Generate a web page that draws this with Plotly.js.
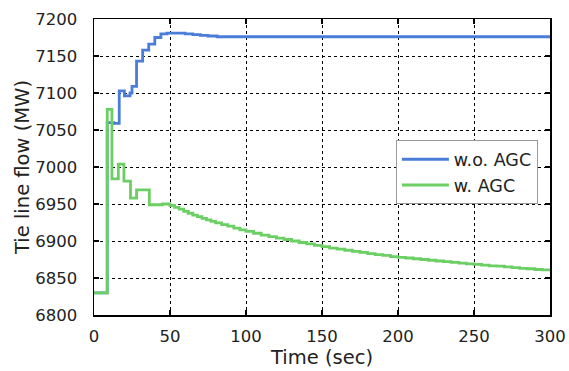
<!DOCTYPE html>
<html>
<head>
<meta charset="utf-8">
<script src="https://cdn.plot.ly/plotly-3.0.1.min.js"></script>
<style>body{margin:0;padding:0;background:#fff}#chart{width:569px;height:371px}</style>
</head>
<body>
<div id="chart"></div>
<script>
// Time (sec) and tie line flow (MW)
const timeWoAGC = [0, 8.7, 13, 16.6, 20, 23.7, 25, 28, 32, 36, 40, 44, 48, 52, 56, 60, 65, 70, 75, 81, 100, 150, 200, 250, 300];
const flowWoAGC = [6830, 7060, 7059, 7103, 7096, 7100, 7109, 7143, 7158, 7166, 7175, 7180, 7181, 7181, 7181, 7180, 7179, 7178, 7177, 7176, 7176, 7176, 7176, 7176, 7176];

const timeWAGC = [0, 8.7, 11.8, 16, 19.7, 24, 28, 36.4, 40, 45, 50, 53, 56, 59, 62, 65, 68, 71, 74, 77, 80, 84, 88, 92, 96, 100,
  105, 110, 115, 120, 125, 130, 135, 140, 145, 150, 155, 160, 165, 170, 175, 180, 185, 190, 195, 200,
  205, 210, 215, 220, 225, 230, 235, 240, 245, 250, 255, 260, 265, 270, 275, 280, 285, 290, 295, 300];
const flowWAGC = [6830, 7078, 6984, 7004, 6981, 6958, 6969, 6949, 6949, 6950, 6948, 6945.5, 6943, 6940, 6937.5, 6935, 6933, 6930.5, 6928.5, 6926.5, 6924.5, 6922, 6920, 6917.5, 6915, 6913,
  6910.5, 6908, 6906, 6904, 6902, 6900, 6898, 6896, 6894, 6892.5, 6890.5, 6889, 6887.5, 6886, 6884.5, 6883, 6881.5, 6880.5, 6879, 6878,
  6877, 6876, 6875, 6874, 6873, 6872, 6871, 6870, 6869, 6868.5, 6867.5, 6866.5, 6866, 6865, 6864, 6863, 6862.5, 6861.5, 6861, 6860];

const xTicks = [0, 50, 100, 150, 200, 250, 300];
const yTicks = [6800, 6850, 6900, 6950, 7000, 7050, 7100, 7150, 7200];
const seriesNames = ['w.o. AGC', 'w. AGC'];

const traces = [
  {x: timeWoAGC, y: flowWoAGC, name: seriesNames[0], mode: 'lines', line: {color: '#4a7dd8', width: 2.8, shape: 'hv'}},
  {x: timeWAGC, y: flowWAGC, name: seriesNames[1], mode: 'lines', line: {color: '#6bcf64', width: 2.8, shape: 'hv'}}
];

const axisCommon = {
  showline: true, linecolor: '#000', linewidth: 1.5, mirror: 'ticks',
  ticks: 'inside', ticklen: 5, tickcolor: '#000', tickwidth: 1.5,
  showgrid: true, gridcolor: '#000', griddash: 'dot', gridwidth: 1,
  zeroline: false,
  tickfont: {family: 'DejaVu Sans', size: 16.5, color: '#222'}
};

const layout = {
  width: 569, height: 371,
  margin: {l: 94, r: 19, t: 19, b: 56},
  paper_bgcolor: '#fff', plot_bgcolor: '#fff',
  font: {family: 'DejaVu Sans', color: '#222'},
  xaxis: Object.assign({}, axisCommon, {
    range: [0, 300], tickvals: xTicks, ticktext: xTicks.map(String),
    ticklabelstandoff: 6,
    title: {text: 'Time (sec)', font: {family: 'DejaVu Sans', size: 19.5, color: '#222'}, standoff: 2}
  }),
  yaxis: Object.assign({}, axisCommon, {
    range: [6800, 7200], tickvals: yTicks, ticktext: yTicks.map(String),
    ticklabelstandoff: 12,
    title: {text: 'Tie line flow (MW)', font: {family: 'DejaVu Sans', size: 19.5, color: '#222'}, standoff: 0}
  }),
  showlegend: true,
  legend: {
    x: 0.662, y: 0.59, xanchor: 'left', yanchor: 'top',
    bgcolor: '#fff', bordercolor: '#999', borderwidth: 1,
    font: {family: 'DejaVu Sans', size: 17.5, color: '#222'},
    itemwidth: 47
  }
};

Plotly.newPlot('chart', traces, layout, {staticPlot: true, displayModeBar: false});
</script>
</body>
</html>
